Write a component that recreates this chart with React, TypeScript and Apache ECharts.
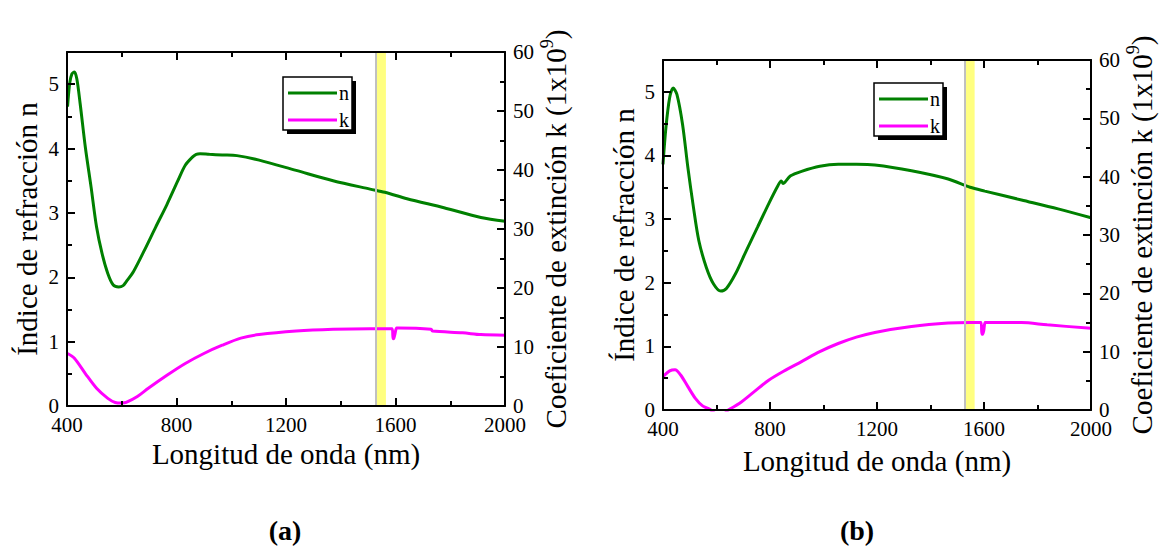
import React, { useEffect, useRef } from 'react';
import * as echarts from 'echarts';

// Panel (a)
const waveNA = [402, 410, 418, 427, 436, 448, 467, 488, 508, 528, 549, 569, 589, 605, 616, 643, 684, 724, 765, 805, 832, 859, 872, 886, 920, 967, 1021, 1102, 1237, 1372, 1507, 1561, 1642, 1777, 1912, 2000];
const nA = [4.65, 5.02, 5.16, 5.19, 5.08, 4.70, 4.02, 3.40, 2.78, 2.37, 2.06, 1.88, 1.85, 1.87, 1.93, 2.09, 2.43, 2.78, 3.13, 3.50, 3.74, 3.87, 3.91, 3.92, 3.91, 3.90, 3.89, 3.82, 3.66, 3.50, 3.37, 3.32, 3.22, 3.08, 2.93, 2.87];
const waveKA = [402, 427, 467, 508, 549, 576, 600, 616, 657, 697, 765, 832, 900, 967, 1035, 1102, 1237, 1372, 1507, 1588, 1591, 1594, 1598, 1604, 1610, 1730, 1735, 1845, 1912, 2000];
const kA = [8.9, 8.1, 5.5, 3.0, 1.3, 0.6, 0.5, 0.6, 1.6, 3.0, 5.2, 7.2, 8.9, 10.3, 11.5, 12.1, 12.7, 13.0, 13.1, 13.1, 11.4, 11.5, 12.2, 13.2, 13.2, 13.0, 12.7, 12.4, 12.1, 12.0];

// Panel (b)
const waveNB = [400, 411, 425, 438, 452, 473, 493, 514, 534, 562, 589, 616, 637, 671, 712, 753, 795, 829, 842, 849, 856, 877, 918, 986, 1055, 1123, 1192, 1329, 1466, 1548, 1603, 1740, 1877, 2000];
const nB = [3.86, 4.44, 4.91, 5.06, 4.96, 4.49, 3.81, 3.18, 2.66, 2.24, 1.98, 1.87, 1.91, 2.14, 2.51, 2.87, 3.24, 3.52, 3.60, 3.56, 3.58, 3.68, 3.75, 3.83, 3.86, 3.86, 3.85, 3.76, 3.63, 3.50, 3.44, 3.30, 3.16, 3.02];
const waveKB = [400, 425, 445, 466, 493, 521, 548, 575, 589, 600, 630, 644, 685, 740, 795, 849, 918, 986, 1055, 1123, 1192, 1329, 1466, 1548, 1589, 1592, 1595, 1599, 1604, 1610, 1740, 1836, 2000];
const kB = [5.7, 6.7, 6.9, 6.0, 4.0, 2.0, 0.7, 0.1, -0.4, -0.8, -0.6, 0.0, 1.1, 3.1, 5.1, 6.6, 8.3, 10.0, 11.4, 12.5, 13.3, 14.3, 14.9, 15.0, 15.0, 13.0, 13.0, 13.6, 15.0, 15.0, 15.0, 14.6, 14.0];

const xTicks = { min: 400, max: 2000, interval: 400 };
const nRange = { min: 0, max: 5.5, interval: 1 };
const kRange = { min: 0, max: 60, interval: 10 };
const xMajorTicks = [800, 1200, 1600];
const xMinorTicks = [600, 1000, 1400, 1800];
const nMajorTicks = [1, 2, 3, 4, 5];
const nMinorTicks = [0.5, 1.5, 2.5, 3.5, 4.5];
const kMajorTicks = [10, 20, 30, 40, 50];
const kMinorTicks = [5, 15, 25, 35, 45, 55];
const band = [1530, 1565];
const bandEdge = 1527;
const panelLabels = ['(a)', '(b)'];

const xTitle = 'Longitud de onda (nm)';
const nTitle = 'Índice de refracción n';
const kTitle = 'Coeficiente de extinción k (1x10{sup|9})';

const GREEN = '#008000';
const MAGENTA = '#ff00ff';
const FONT = '"Liberation Serif", "Times New Roman", serif';

function zip(xs: number[], ys: number[]) {
  return xs.map((x, i) => [x, ys[i]]);
}
function seg(x1: number, y1: number, x2: number, y2: number) {
  return [{ coord: [x1, y1] }, { coord: [x2, y2] }];
}

export default function App() {
  const ref = useRef<HTMLDivElement>(null);
  useEffect(() => {
    const chart = echarts.init(ref.current as HTMLDivElement, null, { renderer: 'svg' });
    const grids = [
      { left: 67, top: 52, width: 438, height: 354 },
      { left: 663, top: 60, width: 431, height: 350 },
    ];
    const xNameGap = [30, 36];
    const leftGap = [26, 25];
    const rightGap = [33, 33];
    const panels = [
      { n: zip(waveNA, nA), k: zip(waveKA, kA) },
      { n: zip(waveNB, nB), k: zip(waveKB, kB) },
    ];
    const line = () => ({ show: true, onZero: false, lineStyle: { color: '#000', width: 2 } });
    const tk = () => ({ show: true, inside: true, length: 8, lineStyle: { color: '#000', width: 2 } });
    const mt = () => ({ show: true, splitNumber: 2, length: 5, lineStyle: { color: '#000', width: 2 } });
    const label = () => ({ color: '#000', fontFamily: FONT, fontSize: 21, margin: 8, formatter: (v: number) => String(v) });
    const nameStyle = () => ({ fontFamily: FONT, fontSize: 29, color: '#000' });
    const frameLine = { color: '#000', width: 2, type: 'solid' };
    const xAxes: any[] = [];
    const yAxes: any[] = [];
    const series: any[] = [];
    grids.forEach((g, i) => {
      xAxes.push({
        gridIndex: i, type: 'value', ...xTicks, position: 'bottom',
        name: xTitle, nameLocation: 'middle', nameGap: xNameGap[i],
        nameTextStyle: nameStyle(),
        axisLine: line(), axisTick: tk(), minorTick: mt(), splitLine: { show: false },
        axisLabel: label(),
      });
      xAxes.push({
        gridIndex: i, type: 'value', ...xTicks, position: 'top',
        axisLine: line(), axisTick: tk(), minorTick: mt(), splitLine: { show: false },
        axisLabel: { show: false },
      });
      yAxes.push({
        gridIndex: i, type: 'value', ...nRange, position: 'left',
        name: nTitle, nameLocation: 'middle', nameGap: leftGap[i], nameRotate: 90,
        nameTextStyle: nameStyle(),
        axisLine: line(), axisTick: tk(), minorTick: mt(), splitLine: { show: false },
        axisLabel: { ...label(), showMaxLabel: false },
      });
      yAxes.push({
        gridIndex: i, type: 'value', ...kRange, position: 'right',
        name: kTitle, nameLocation: 'middle', nameGap: rightGap[i], nameRotate: 90,
        nameTextStyle: {
          ...nameStyle(), lineHeight: 36,
          rich: { sup: { fontFamily: FONT, fontSize: 18, color: '#000', verticalAlign: 'top', lineHeight: 36, padding: [0, 0, 12, 0] } },
        },
        axisLine: line(), axisTick: tk(), minorTick: mt(), splitLine: { show: false },
        axisLabel: label(),
      });
    });
    // highlighted band behind the curves
    grids.forEach((g, i) => {
      series.push({
        type: 'line', xAxisIndex: 2 * i, yAxisIndex: 2 * i, data: [], showSymbol: false,
        markArea: {
          silent: true,
          itemStyle: { color: '#ffff80', opacity: 1 },
          data: [[{ xAxis: band[0] }, { xAxis: band[1] }]],
        },
        markLine: {
          silent: true, symbol: 'none', label: { show: false },
          lineStyle: { color: '#c0c0c0', width: 2, type: 'solid' },
          data: [{ xAxis: bandEdge }],
        },
      });
    });
    grids.forEach((g, i) => {
      series.push({
        type: 'line', name: 'n', xAxisIndex: 2 * i, yAxisIndex: 2 * i,
        data: panels[i].n, showSymbol: false, smooth: 0.3,
        lineStyle: { color: GREEN, width: 3 }, itemStyle: { color: GREEN },
      });
      series.push({
        type: 'line', name: 'k', xAxisIndex: 2 * i, yAxisIndex: 2 * i + 1,
        data: panels[i].k, showSymbol: false, smooth: 0.3,
        lineStyle: { color: MAGENTA, width: 3 }, itemStyle: { color: MAGENTA },
      });
    });
    // frame and inward ticks, placed through the axes' own scales
    grids.forEach((g, i) => {
      const x0 = xTicks.min, x1 = xTicks.max, y0 = nRange.min, y1 = nRange.max;
      const dyMaj = (8 * (y1 - y0)) / g.height;
      const dyMin = (5 * (y1 - y0)) / g.height;
      const dxMaj = (8 * (x1 - x0)) / g.width;
      const dxMin = (5 * (x1 - x0)) / g.width;
      const nSegs: any[] = [
        seg(x0, y0, x1, y0), seg(x0, y1, x1, y1), seg(x0, y0, x0, y1), seg(x1, y0, x1, y1),
      ];
      xMajorTicks.forEach((x) => { nSegs.push(seg(x, y0, x, y0 + dyMaj)); nSegs.push(seg(x, y1, x, y1 - dyMaj)); });
      xMinorTicks.forEach((x) => { nSegs.push(seg(x, y0, x, y0 + dyMin)); nSegs.push(seg(x, y1, x, y1 - dyMin)); });
      nMajorTicks.forEach((v) => nSegs.push(seg(x0, v, x0 + dxMaj, v)));
      nMinorTicks.forEach((v) => nSegs.push(seg(x0, v, x0 + dxMin, v)));
      const kSegs: any[] = [];
      kMajorTicks.forEach((v) => kSegs.push(seg(x1, v, x1 - dxMaj, v)));
      kMinorTicks.forEach((v) => kSegs.push(seg(x1, v, x1 - dxMin, v)));
      series.push({
        type: 'line', xAxisIndex: 2 * i, yAxisIndex: 2 * i, data: [], showSymbol: false, clip: false,
        markLine: { silent: true, symbol: 'none', label: { show: false }, lineStyle: frameLine, data: nSegs },
      });
      series.push({
        type: 'line', xAxisIndex: 2 * i, yAxisIndex: 2 * i + 1, data: [], showSymbol: false, clip: false,
        markLine: { silent: true, symbol: 'none', label: { show: false }, lineStyle: frameLine, data: kSegs },
      });
    });

    const legendBoxes = [
      { x: 283, y: 77 },
      { x: 874, y: 83 },
    ];
    const graphic: any[] = [];
    legendBoxes.forEach((b) => {
      graphic.push({ type: 'rect', shape: { x: b.x + 4, y: b.y + 4, width: 69, height: 53 }, style: { fill: '#000' } });
      graphic.push({ type: 'rect', shape: { x: b.x, y: b.y, width: 69, height: 53 }, style: { fill: '#fff', stroke: '#000', lineWidth: 1.5 } });
      graphic.push({ type: 'line', shape: { x1: b.x + 5, y1: b.y + 16, x2: b.x + 54, y2: b.y + 16 }, style: { stroke: GREEN, lineWidth: 3 } });
      graphic.push({ type: 'line', shape: { x1: b.x + 5, y1: b.y + 43, x2: b.x + 54, y2: b.y + 43 }, style: { stroke: MAGENTA, lineWidth: 3 } });
      graphic.push({ type: 'text', x: b.x + 56, y: b.y + 16, style: { text: 'n', font: `20px ${FONT}`, fill: '#000', verticalAlign: 'middle' } });
      graphic.push({ type: 'text', x: b.x + 56, y: b.y + 43, style: { text: 'k', font: `20px ${FONT}`, fill: '#000', verticalAlign: 'middle' } });
    });
    const labelPos = [285, 857];
    panelLabels.forEach((t, i) => {
      graphic.push({ type: 'text', x: labelPos[i], y: 530, style: { text: t, font: `bold 28px ${FONT}`, fill: '#000', align: 'center', verticalAlign: 'middle' } });
    });

    chart.setOption({
      animation: false,
      grid: grids,
      xAxis: xAxes,
      yAxis: yAxes,
      series,
      graphic,
    });
    return () => chart.dispose();
  }, []);
  return <div ref={ref} style={{ position: 'fixed', left: 0, top: 0, width: 1161, height: 546, background: '#fff' }} />;
}
